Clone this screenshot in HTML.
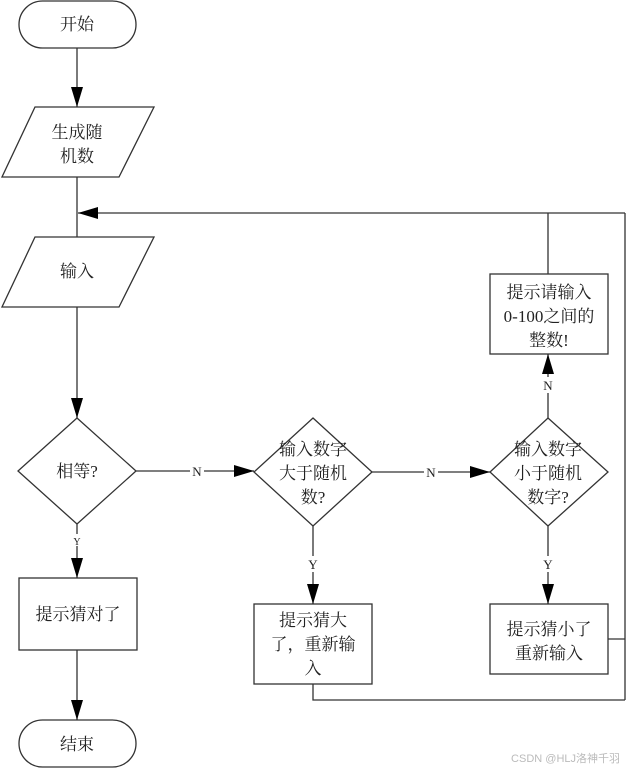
<!DOCTYPE html>
<html><head><meta charset="utf-8"><style>
html,body{margin:0;padding:0;background:#fff;}
svg text{font-family:"Liberation Serif","Noto Serif CJK SC","Noto Sans CJK SC",serif;fill:#222;}
</style></head><body>
<svg width="627" height="768" viewBox="0 0 627 768" xmlns="http://www.w3.org/2000/svg">
<defs><marker id="a" markerWidth="10" markerHeight="12" refX="10" refY="6" orient="auto" markerUnits="userSpaceOnUse"><path d="M0,0 L10,6 L0,12 z" fill="#000"/></marker>
<marker id="b" markerWidth="20" markerHeight="12" refX="20" refY="6" orient="auto" markerUnits="userSpaceOnUse"><path d="M0,0 L20,6 L0,12 z" fill="#000"/></marker></defs>
<g stroke="#333" stroke-width="1.3" fill="none">
<rect x="19" y="1" width="117" height="47" rx="23.5"/>
<polygon points="35,107 154,107 119,177 2,177"/>
<polygon points="35,237 154,237 119,307 2,307"/>
<polygon points="77,418 136,471 77,524 18,471"/>
<polygon points="313,418 372,472 313,526 254,472"/>
<polygon points="548,418 608,472 548,526 490,472"/>
<rect x="490" y="274" width="118" height="80"/>
<rect x="19" y="578" width="118" height="72"/>
<rect x="254" y="604" width="118" height="80"/>
<rect x="490" y="604" width="118" height="70"/>
<rect x="19" y="720" width="117" height="47" rx="23.5"/>
<line x1="77" y1="48" x2="77" y2="107" marker-end="url(#b)"/>
<line x1="77" y1="177" x2="77" y2="237"/>
<line x1="77" y1="307" x2="77" y2="418" marker-end="url(#b)"/>
<line x1="625" y1="213" x2="78" y2="213" marker-end="url(#b)"/>
<line x1="548" y1="274" x2="548" y2="213"/>
<line x1="625" y1="213" x2="625" y2="700"/>
<line x1="608" y1="639" x2="625" y2="639"/>
<polyline points="313,684 313,700 625,700"/>
<line x1="136" y1="471" x2="254" y2="471" marker-end="url(#b)"/>
<line x1="372" y1="472" x2="490" y2="472" marker-end="url(#b)"/>
<line x1="548" y1="418" x2="548" y2="354" marker-end="url(#b)"/>
<line x1="77" y1="524" x2="77" y2="578" marker-end="url(#b)"/>
<line x1="313" y1="526" x2="313" y2="604" marker-end="url(#b)"/>
<line x1="548" y1="526" x2="548" y2="604" marker-end="url(#b)"/>
<line x1="77" y1="650" x2="77" y2="720" marker-end="url(#b)"/>
</g>
<g fill="#fff"><rect x="190" y="463" width="14" height="16"/><rect x="424" y="464" width="14" height="16"/><rect x="541" y="377" width="14" height="16"/><rect x="71" y="534" width="12" height="12"/><rect x="306" y="556" width="14" height="16"/><rect x="541" y="556" width="14" height="16"/></g>
<g font-size="17" text-anchor="middle">
<text x="77" y="30">开始</text>
<text x="77" y="138">生成随</text><text x="77" y="162">机数</text>
<text x="77" y="277">输入</text>
<text x="77" y="477">相等?</text>
<text x="313" y="455">输入数字</text><text x="313" y="479">大于随机</text><text x="313" y="503">数?</text>
<text x="548" y="455">输入数字</text><text x="548" y="479">小于随机</text><text x="548" y="503">数字?</text>
<text x="549" y="298">提示请输入</text><text x="549" y="322">0-100之间的</text><text x="549" y="346">整数!</text>
<text x="78" y="620">提示猜对了</text>
<text x="313" y="626">提示猜大</text><text x="313" y="650">了，重新输</text><text x="313" y="674">入</text>
<text x="549" y="635">提示猜小了</text><text x="549" y="659">重新输入</text>
<text x="77" y="750">结束</text>
</g>
<g font-size="13" text-anchor="middle">
<text x="197" y="476">N</text><text x="431" y="477">N</text><text x="548" y="390">N</text>
<text x="313" y="569">Y</text><text x="548" y="569">Y</text>
</g>
<text x="77" y="545" font-size="10" text-anchor="middle">Y</text>
<text x="620" y="762" font-size="11" text-anchor="end" style="fill:#bbb;font-family:'Liberation Sans','Noto Sans CJK SC',sans-serif">CSDN @HLJ洛神千羽</text>
</svg>
</body></html>
